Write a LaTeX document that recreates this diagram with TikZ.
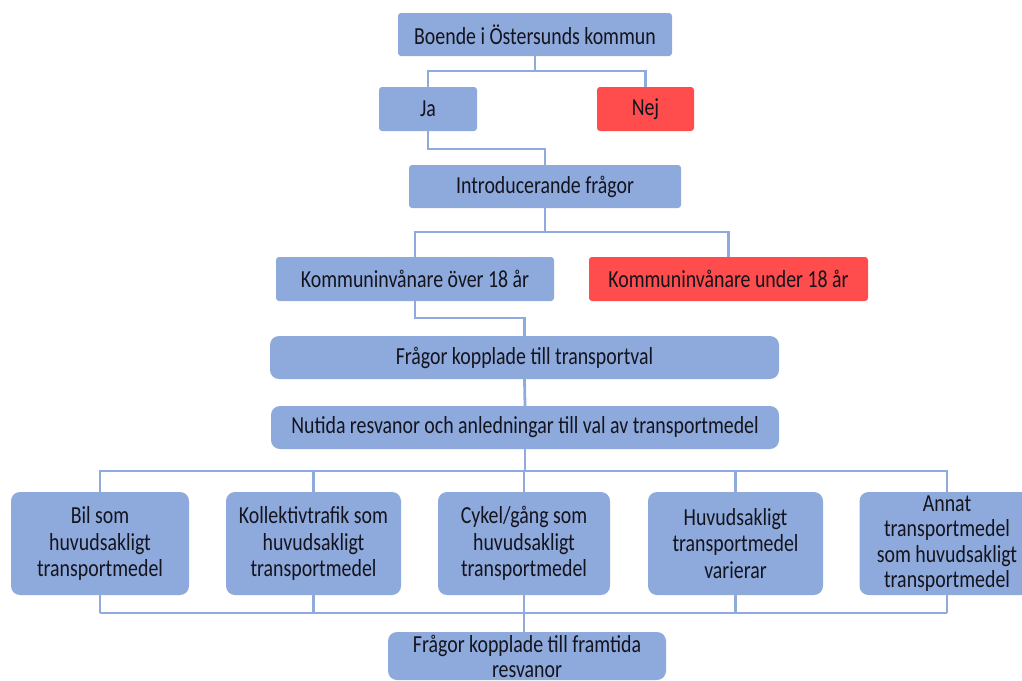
\documentclass[tikz,border=0pt]{standalone}
\usepackage{fontspec}
\setmainfont{Carlito}[FakeStretch=0.81]
\definecolor{boxblue}{RGB}{142,169,219}
\definecolor{boxred}{RGB}{255,76,76}
\definecolor{linkblue}{RGB}{143,170,220}
\definecolor{txt}{RGB}{20,20,30}
\begin{document}
\begin{tikzpicture}[x=1pt,y=-1pt,
  box/.style={draw=none,fill=boxblue,rounded corners=3pt,align=center,
    font=\fontsize{24.5}{26.5}\selectfont,text=txt,inner sep=0pt},
  nobox/.style={box,fill=boxred},
  bigbox/.style={box,rounded corners=9pt},
  link/.style={draw=linkblue,line width=2.8pt}]
\useasboundingbox (0,0) rectangle (1022,680);

\node[box,minimum width=274pt,minimum height=43pt] (boende) at (535,34.5) {Boende i Östersunds kommun};
\node[box,minimum width=98pt,minimum height=44pt] (ja) at (428,109) {Ja};
\node[nobox,minimum width=97pt,minimum height=44pt] (nej) at (645.5,109) {Nej};
\node[box,minimum width=272pt,minimum height=43pt] (intro) at (545,186.5) {Introducerande frågor};
\node[box,minimum width=278pt,minimum height=44pt] (over) at (415,279) {Kommuninvånare över 18 år};
\node[nobox,minimum width=279pt,minimum height=44pt] (under) at (728.5,279) {Kommuninvånare under 18 år};
\node[bigbox,minimum width=509pt,minimum height=43pt] (fragor) at (524.5,357.5) {Frågor kopplade till transportval};
\node[bigbox,minimum width=508pt,minimum height=43pt] (nutida) at (525,427.5) {Nutida resvanor och anledningar till val av transportmedel};

\node[bigbox,minimum width=178pt,minimum height=103pt] (bil) at (100,543.5) {Bil som\\huvudsakligt\\transportmedel};
\node[bigbox,minimum width=175pt,minimum height=103pt] (koll) at (313.5,543.5) {Kollektivtrafik som\\huvudsakligt\\transportmedel};
\node[bigbox,minimum width=172pt,minimum height=103pt] (cykel) at (524,543.5) {Cykel/gång som\\huvudsakligt\\transportmedel};
\node[bigbox,minimum width=175pt,minimum height=103pt] (huvud) at (735.5,543.5) {Huvudsakligt\\transportmedel\\varierar};
\node[bigbox,minimum width=175pt,minimum height=103pt,font=\fontsize{24.5}{25.5}\selectfont] (annat) at (947,543.5) {Annat\\transportmedel\\som huvudsakligt\\transportmedel};
\node[bigbox,minimum width=278pt,minimum height=48pt,font=\fontsize{24.5}{25}\selectfont] (framtida) at (527,656) {Frågor kopplade till framtida\\resvanor};

\coordinate (b1) at (0,71);
\coordinate (b2) at (0,149);
\coordinate (b3) at (0,232);
\coordinate (b4) at (0,318);
\coordinate (b5) at (0,471);
\coordinate (b6) at (0,613);

\path[link] (boende.south) -- (boende.south |- b1) -| (ja.north);
\path[link] (boende.south |- b1) -| (nej.north);
\path[link] (ja.south) -- (ja.south |- b2) -| (intro.north);
\path[link] (intro.south) -- (intro.south |- b3) -| (over.north);
\path[link] (intro.south |- b3) -| (under.north);
\path[link] (over.south) -- (over.south |- b4) -| (fragor.north);
\path[link] (fragor.south) -- (nutida.north);
\path[link] (nutida.south) -- (nutida.south |- b5);
\foreach \n in {bil,koll,cykel,huvud,annat}{
  \path[link] (nutida.south |- b5) -| (\n.north);
  \path[link] (\n.south) -- (\n.south |- b6);
}
\path[link] (bil.south |- b6) -- (annat.south |- b6);
\path[link] (cykel.south |- b6) -- (cykel.south |- framtida.north);
\end{tikzpicture}
\end{document}
